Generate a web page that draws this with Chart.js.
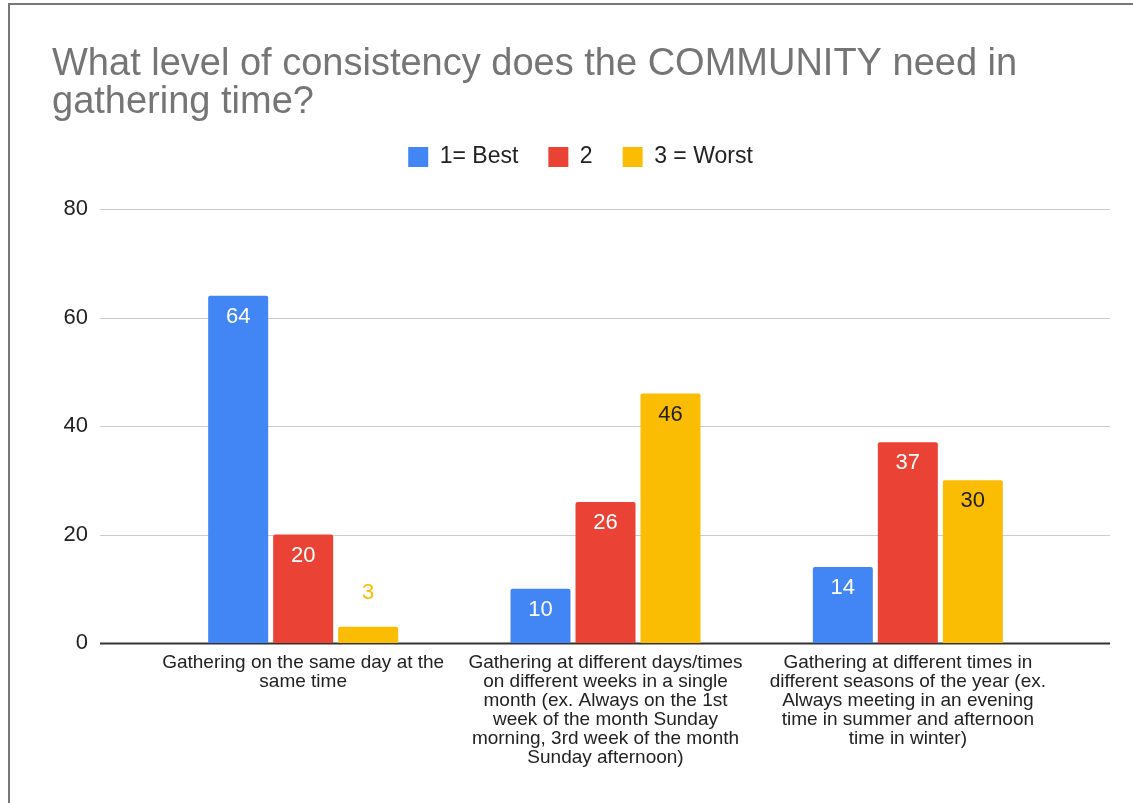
<!DOCTYPE html>
<html>
<head>
<meta charset="utf-8">
<script src="https://cdn.jsdelivr.net/npm/chart.js@4.4.1/dist/chart.umd.min.js"></script>
<style>
    html, body { margin: 0; padding: 0; background: #fff; }
    #wrap { position: relative; width: 1133px; height: 803px; }
    #frame { position: absolute; left: 8px; top: 3px; right: 0; bottom: -5px;
             border-left: 2px solid #777; border-top: 2px solid #777; pointer-events: none; }
    canvas { position: absolute; left: 0; top: 0; }
</style>
</head>
<body>
<div id="wrap">
    <canvas id="chart" width="1133" height="803"></canvas>
    <div id="frame"></div>
</div>
<script>
// Datos del gráfico
const categories = [
    ['Gathering on the same day at the', 'same time'],
    ['Gathering at different days/times', 'on different weeks in a single', 'month (ex. Always on the 1st',
     'week of the month Sunday', 'morning, 3rd week of the month', 'Sunday afternoon)'],
    ['Gathering at different times in', 'different seasons of the year (ex.', 'Always meeting in an evening',
     'time in summer and afternoon', 'time in winter)']
];
const seriesNames = ['1= Best', '2', '3 = Worst'];
const best = [64, 10, 14];
const second = [20, 26, 37];
const worst = [3, 46, 30];
const yTicks = [0, 20, 40, 60, 80];

const colors = ['#4285F4', '#EA4335', '#FBBC04'];
const FONT = '"Liberation Sans", Arial, sans-serif';

// Extiende las líneas de la cuadrícula más allá del área de barras
const gridPlugin = {
    id: 'wideGrid',
    beforeDatasetsDraw(chart) {
        const ctx = chart.ctx;
        const y = chart.scales.y;
        ctx.save();
        yTicks.forEach(v => {
            const py = Math.round(y.getPixelForValue(v)) + 0.5;
            ctx.beginPath();
            ctx.strokeStyle = v === 0 ? '#333333' : '#cccccc';
            ctx.lineWidth = v === 0 ? 2 : 1;
            ctx.moveTo(100, py);
            ctx.lineTo(1110, py);
            ctx.stroke();
        });
        ctx.restore();
    }
};

// Etiquetas de valor sobre las barras
const valueLabels = {
    id: 'valueLabels',
    afterDatasetsDraw(chart) {
        const ctx = chart.ctx;
        ctx.save();
        ctx.font = '22px ' + FONT;
        ctx.textAlign = 'center';
        ctx.textBaseline = 'middle';
        chart.data.datasets.forEach((ds, i) => {
            chart.getDatasetMeta(i).data.forEach((bar, j) => {
                const v = ds.data[j];
                const h = bar.base - bar.y;
                let ty, color;
                if (h < 40) {
                    ty = bar.y - 34;
                    color = colors[i];
                } else {
                    ty = bar.y + 21;
                    color = i === 2 ? '#1f1f1f' : '#ffffff';
                }
                ctx.fillStyle = color;
                ctx.fillText(String(v), bar.x, ty);
            });
        });
        ctx.restore();
    }
};

// Altura fija de la leyenda (deja hueco antes del área del gráfico)
const legendGap = {
    id: 'legendGap',
    beforeLayout(chart) {
        const legend = chart.legend;
        if (!legend || legend._patched) return;
        const fit = legend.fit;
        legend.fit = function () {
            fit.call(this);
            this.height = 93.5;
        };
        legend._patched = true;
    }
};

const datasets = [best, second, worst].map((data, i) => ({
    label: seriesNames[i],
    data: data,
    backgroundColor: colors[i],
    borderRadius: { topLeft: 2, topRight: 2 },
    borderSkipped: 'bottom',
    categoryPercentage: 0.645,
    barPercentage: 0.923
}));

new Chart(document.getElementById('chart'), {
    type: 'bar',
    data: { labels: categories, datasets: datasets },
    plugins: [gridPlugin, valueLabels, legendGap],
    options: {
        responsive: false,
        animation: false,
        devicePixelRatio: 1,
        layout: { padding: { left: 52, right: 24, top: 0, bottom: 0 } },
        plugins: {
            tooltip: { enabled: false },
            title: {
                display: true,
                align: 'start',
                text: ['What level of consistency does the COMMUNITY need in', 'gathering time?'],
                color: '#757575',
                font: { family: FONT, size: 38, weight: 'normal', lineHeight: 1.0 },
                padding: { top: 45.5, bottom: -6 }
            },
            legend: {
                display: true,
                position: 'top',
                labels: {
                    usePointStyle: true,
                    pointStyle: 'rect',
                    pointStyleWidth: 20,
                    boxHeight: 20,
                    padding: 30,
                    color: '#222222',
                    font: { family: FONT, size: 23 }
                }
            }
        },
        scales: {
            x: {
                grid: { display: false, drawTicks: false },
                border: { display: false },
                ticks: {
                    color: '#222222',
                    font: { family: FONT, size: 19, lineHeight: 1.0 },
                    padding: 10,
                    maxRotation: 0,
                    autoSkip: false
                },
                afterFit(scale) { scale.height = 160; }
            },
            y: {
                min: 0,
                max: 80,
                afterBuildTicks(scale) { scale.ticks = yTicks.map(v => ({ value: v })); },
                grid: { display: false, drawTicks: false },
                border: { display: false },
                ticks: {
                    color: '#222222',
                    font: { family: FONT, size: 22 },
                    padding: 64
                },
                afterFit(scale) { scale.width = 100; }
            },
            yRight: {
                position: 'right',
                display: true,
                grid: { display: false, drawTicks: false },
                border: { display: false },
                ticks: { display: false },
                afterFit(scale) { scale.width = 50; }
            }
        }
    }
});
</script>
</body>
</html>
